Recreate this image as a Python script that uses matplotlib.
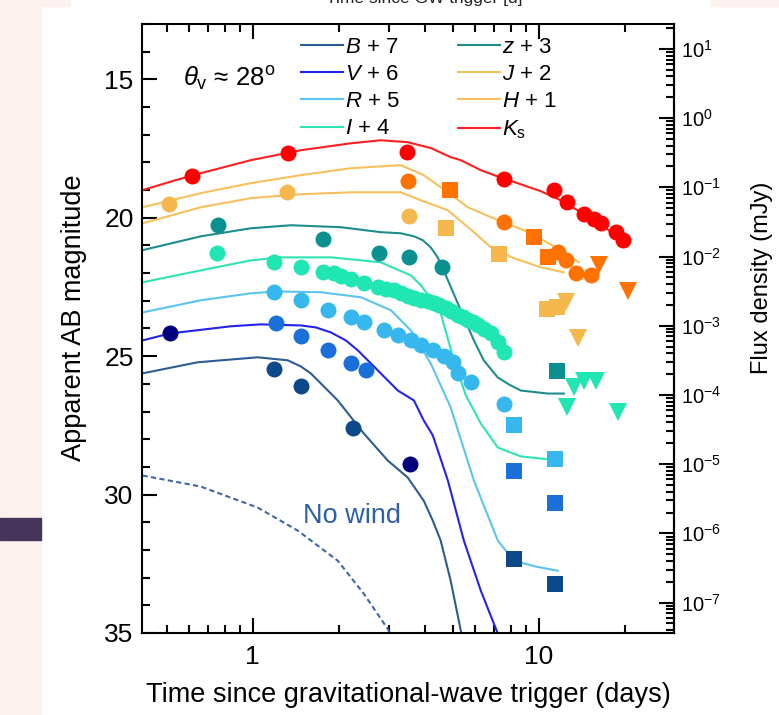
import numpy as np
import matplotlib.pyplot as plt
from matplotlib.patches import Rectangle
from matplotlib.ticker import MultipleLocator, LogLocator, NullFormatter, FuncFormatter, FixedLocator

plt.rcParams['font.family'] = ['Liberation Sans', 'DejaVu Sans']
plt.rcParams['mathtext.fontset'] = 'custom'
plt.rcParams['mathtext.rm'] = 'Liberation Sans'
plt.rcParams['mathtext.it'] = 'Liberation Sans:italic'
plt.rcParams['mathtext.bf'] = 'Liberation Sans:bold'

# ---- model light curves (days, AB mag with offsets) ----
t_ks_mod = [0.412, 0.538, 0.658, 0.984, 1.472, 2.20, 2.80, 3.48, 4.19, 4.92, 5.34, 6.27, 7.37, 8.65, 10.16, 11.94, 14.03, 16.48, 20.15]
m_ks_mod = [19.00, 18.64, 18.39, 17.92, 17.56, 17.31, 17.20, 17.27, 17.48, 17.81, 17.92, 18.28, 18.55, 18.79, 19.04, 19.37, 19.80, 20.23, 20.92]

t_h_mod = [0.412, 0.658, 0.984, 1.472, 2.20, 3.29, 3.96, 4.81, 5.65, 6.80, 7.55, 9.38, 11.94, 13.8]
m_h_mod = [19.62, 19.11, 18.75, 18.46, 18.21, 18.10, 18.46, 19.08, 19.62, 19.98, 20.16, 20.56, 21.17, 21.61]

t_j_mod = [0.412, 0.658, 0.984, 1.472, 2.20, 3.29, 3.87, 4.81, 5.93, 6.80, 8.18, 10.16, 12.23]
m_j_mod = [20.20, 19.62, 19.29, 19.15, 19.08, 19.08, 19.37, 19.73, 20.52, 21.07, 21.46, 21.79, 21.97]

t_z_mod = [0.412, 0.658, 0.984, 1.358, 2.03, 2.80, 3.29, 3.66, 3.93, 4.19, 4.43, 4.65, 5.21, 5.93, 6.42, 7.19, 7.86, 8.65, 10.75, 12.23]
m_z_mod = [21.17, 20.67, 20.38, 20.27, 20.34, 20.52, 20.56, 20.67, 20.81, 21.07, 21.43, 21.90, 23.09, 24.43, 25.15, 25.77, 26.02, 26.24, 26.35, 26.35]

t_i_mod = [0.412, 0.658, 0.984, 1.253, 1.874, 2.80, 3.57, 3.87, 4.19, 4.54, 5.05, 5.56, 6.27, 7.19, 8.65, 10.84]
m_i_mod = [22.33, 21.90, 21.54, 21.43, 21.43, 21.61, 22.08, 22.44, 22.91, 23.45, 25.15, 26.42, 27.43, 28.30, 28.62, 28.73]

t_r_mod = [0.412, 0.658, 0.984, 1.203, 1.729, 2.386, 3.04, 3.57, 4.19, 4.92, 5.93, 7.19, 8.18, 9.76, 11.65]
m_r_mod = [23.42, 22.98, 22.73, 22.66, 22.69, 22.87, 23.34, 24.07, 25.26, 26.85, 29.49, 31.66, 32.39, 32.60, 32.75]

t_v_mod = [0.412, 0.513, 0.838, 1.067, 1.472, 1.661, 1.874, 2.115, 2.33, 2.735, 3.214, 3.66, 3.96, 4.26, 4.81, 5.47, 6.27, 7.19, 7.67]
m_v_mod = [24.43, 24.18, 23.92, 23.85, 23.89, 23.96, 24.14, 24.43, 24.79, 25.51, 26.24, 26.60, 27.32, 27.86, 29.49, 31.66, 33.47, 35.02, 36.0]

t_b_mod = [0.412, 0.642, 1.041, 1.326, 1.472, 1.595, 1.771, 1.983, 2.444, 2.965, 3.48, 3.96, 4.26, 4.54, 4.92, 5.34, 5.56]
m_b_mod = [25.62, 25.22, 25.04, 25.15, 25.37, 25.62, 26.09, 26.60, 27.79, 28.77, 29.38, 30.22, 30.94, 31.66, 33.11, 34.92, 36.0]

t_nowind = [0.412, 0.658, 1.041, 1.436, 1.983, 2.444, 3.04, 3.21]
m_nowind = [29.31, 29.71, 30.47, 31.30, 32.39, 33.58, 35.02, 35.46]

# ---- photometry ----
t_ks = [0.612, 1.326, 3.455, 7.55, 11.28, 12.6, 14.4, 15.57, 16.48, 18.58, 19.7]
m_ks = [18.50, 17.67, 17.63, 18.61, 19.00, 19.44, 19.87, 20.05, 20.20, 20.52, 20.81]

t_h = [3.48, 7.55, 11.65, 12.43, 13.5, 15.2]
m_h = [18.68, 20.16, 21.25, 21.54, 22.00, 22.08]
t_h_sq = [4.885, 9.6, 10.75]
m_h_sq = [19.00, 20.70, 21.43]
t_h_lim = [16.2, 20.5]
m_h_lim = [21.72, 22.66]

t_j = [0.508, 1.315, 3.52]
m_j = [19.51, 19.08, 19.94]
t_j_sq = [4.73, 7.25, 10.67, 11.56]
m_j_sq = [20.38, 21.32, 23.31, 23.24]
t_j_lim = [12.43, 13.7]
m_j_lim = [23.05, 24.36]

t_z = [0.755, 1.76, 2.76, 3.51, 4.58]
m_z = [20.27, 20.78, 21.28, 21.43, 21.79]
t_z_sq = [11.56]
m_z_sq = [25.55]

t_i = [0.748, 1.19, 1.47, 1.76, 1.92, 2.03, 2.20, 2.44, 2.74, 2.92, 3.11, 3.29, 3.48, 3.66, 3.87,
       4.09, 4.29, 4.47, 4.73, 4.92, 5.21, 5.42, 5.65, 5.88, 6.12, 6.42, 6.80, 7.19, 7.55]
m_i = [21.28, 21.61, 21.79, 21.97, 22.00, 22.11, 22.22, 22.37, 22.51, 22.58, 22.62, 22.73, 22.84, 22.91, 22.98,
       23.02, 23.09, 23.16, 23.27, 23.38, 23.52, 23.60, 23.70, 23.78, 23.89, 24.03, 24.18, 24.50, 24.86]
t_i_lim = [12.6, 13.25, 14.4, 15.8, 18.9]
m_i_lim = [26.85, 26.13, 25.88, 25.88, 27.00]

t_r = [1.19, 1.47, 1.84, 2.20, 2.44, 2.87, 3.21, 3.57, 3.87, 4.26, 4.65, 5.0, 5.21, 5.78, 7.55]
m_r = [22.69, 22.98, 23.34, 23.60, 23.78, 24.07, 24.25, 24.43, 24.61, 24.79, 25.01, 25.22, 25.59, 25.95, 26.71]
t_r_sq = [8.18, 11.37]
m_r_sq = [27.50, 28.70]

t_v = [1.203, 1.472, 1.84, 2.20, 2.48]
m_v = [23.81, 24.28, 24.79, 25.26, 25.51]
t_v_sq = [8.18, 11.37]
m_v_sq = [29.13, 30.32]

t_b = [1.19, 1.472, 2.237]
m_b = [25.48, 26.09, 27.61]
t_b_sq = [8.18, 11.37]
m_b_sq = [32.31, 33.22]

t_dark = [0.513, 3.54]
m_dark = [24.18, 28.88]

legend_labels = [r'$B$ + 7', r'$V$ + 6', r'$R$ + 5', r'$I$ + 4',
                 r'$z$ + 3', r'$J$ + 2', r'$H$ + 1', r'$K_{\rm s}$']

flux_decades = list(range(-7, 2))


def mag_to_flux(m):
    # AB magnitude -> flux density in mJy
    return 10 ** ((16.4 - np.asarray(m, dtype=float)) / 2.5)


def flux_to_mag(f):
    f = np.clip(np.asarray(f, dtype=float), 1e-30, None)
    return 16.4 - 2.5 * np.log10(f)


fig = plt.figure(figsize=(7.79, 7.15), dpi=100)
fig.patches.append(Rectangle((0, 0), 41 / 779, 1, transform=fig.transFigure,
                             color='#fdf2ef', zorder=-5))
fig.patches.append(Rectangle((0, 1 - 6 / 715), 70 / 779, 6 / 715, transform=fig.transFigure,
                             color='#fdf2ef', zorder=-5))
fig.patches.append(Rectangle((711 / 779, 1 - 6 / 715), 68 / 779, 6 / 715, transform=fig.transFigure,
                             color='#fdf2ef', zorder=-5))
fig.patches.append(Rectangle((0, (715 - 540) / 715), 41 / 779, 22 / 715, transform=fig.transFigure,
                             color='#45355a', zorder=-4))
fig.text(424 / 779, 1 - 3 / 715, 'Time since GW trigger [d]', ha='center', va='baseline',
         fontsize=12.5, color='#222222')

ax = fig.add_axes([142 / 779, (715 - 633) / 715, 532 / 779, 609 / 715])

lw = 1.5
c_b, c_v, c_r, c_i = '#2b5d92', '#2323ee', '#5cc3ef', '#2fe3b5'
c_z, c_jh, c_ks = '#1f8c8c', '#f7c05c', '#ff1f1f'

lines = []
lines += ax.plot(t_b_mod, m_b_mod, color=c_b, lw=lw)
lines += ax.plot(t_v_mod, m_v_mod, color=c_v, lw=lw)
lines += ax.plot(t_r_mod, m_r_mod, color=c_r, lw=lw)
lines += ax.plot(t_i_mod, m_i_mod, color=c_i, lw=lw)
lines += ax.plot(t_z_mod, m_z_mod, color=c_z, lw=lw)
lines += ax.plot(t_j_mod, m_j_mod, color=c_jh, lw=lw)
lines += ax.plot(t_h_mod, m_h_mod, color=c_jh, lw=lw)
lines += ax.plot(t_ks_mod, m_ks_mod, color=c_ks, lw=lw)
ax.plot(t_nowind, m_nowind, color='#3a6aa5', lw=lw, ls=(0, (2.5, 1.6)))

ms_o, ms_s, ms_v = 11.5, 12, 12.5


def points(t, m, color, marker='o', ms=ms_o):
    ax.plot(t, m, ls='none', marker=marker, ms=ms, color=color, mew=0, zorder=3)


points(t_ks, m_ks, '#ff0000')
points(t_h, m_h, '#ff7200')
points(t_h_sq, m_h_sq, '#ff7200', 's', ms_s)
points(t_h_lim, m_h_lim, '#ff7200', 'v', ms_v)
points(t_j, m_j, '#f6b84c')
points(t_j_sq, m_j_sq, '#f6b84c', 's', ms_s)
points(t_j_lim, m_j_lim, '#f6b84c', 'v', ms_v)
points(t_z, m_z, '#0b9090')
points(t_z_sq, m_z_sq, '#0b9090', 's', ms_s)
points(t_i, m_i, '#1fe6b2')
points(t_i_lim, m_i_lim, '#1fe6b2', 'v', ms_v)
points(t_r, m_r, '#36b7ee')
points(t_r_sq, m_r_sq, '#36b7ee', 's', ms_s)
points(t_v, m_v, '#1a6fd8')
points(t_v_sq, m_v_sq, '#1a6fd8', 's', ms_s)
points(t_b, m_b, '#0d4888')
points(t_b_sq, m_b_sq, '#0d4888', 's', ms_s)
points(t_dark, m_dark, '#00007e')

ax.set_xscale('log')
ax.set_xlim(0.41, 29.7)
ax.set_ylim(35, 13)
ax.set_xticks([1, 10])
ax.set_xticklabels(['1', '10'])
ax.xaxis.set_minor_locator(LogLocator(base=10, subs=np.arange(2, 10), numticks=20))
ax.xaxis.set_minor_formatter(NullFormatter())
ax.yaxis.set_major_locator(MultipleLocator(5))
ax.yaxis.set_minor_locator(MultipleLocator(1))
ax.tick_params(which='both', direction='in', top=True, right=False, width=1.5, labelsize=19)
ax.tick_params(which='major', length=11)
ax.tick_params(which='minor', length=5.5)
ax.tick_params(axis='y', pad=6)
ax.tick_params(axis='x', pad=9)
for sp in ax.spines.values():
    sp.set_linewidth(1.5)

ax.set_xlabel('Time since gravitational-wave trigger (days)', fontsize=19.5, labelpad=9)
ax.set_ylabel('Apparent AB magnitude', fontsize=19.5)
ax.yaxis.set_label_coords(-0.104, 0.517)

# flux density axis on the right, tied to the magnitude scale
f_lo, f_hi = sorted(mag_to_flux(ax.get_ylim()))
major_f = [10.0 ** k for k in flux_decades]
minor_f = [s * 10.0 ** k for k in range(-8, 2) for s in range(2, 10)]
minor_f = [f for f in minor_f if f_lo < f < f_hi]

sec = ax.secondary_yaxis('right', functions=(mag_to_flux, flux_to_mag))
sec.yaxis.set_major_locator(FixedLocator(major_f))
sec.yaxis.set_minor_locator(FixedLocator(minor_f))
sec.yaxis.set_major_formatter(FuncFormatter(
    lambda v, pos: r'$\mathregular{10^{%d}}$' % round(np.log10(v))))
sec.yaxis.set_minor_formatter(NullFormatter())
sec.tick_params(which='both', direction='in', width=1.5, labelsize=14.5, pad=5)
sec.tick_params(which='major', length=11)
sec.tick_params(which='minor', length=5.5)
sec.spines['right'].set_linewidth(1.5)
sec.set_ylabel('Flux density (mJy)', fontsize=17)
sec.yaxis.set_label_coords(1.144, 0.583, transform=ax.transAxes)

ax.legend(lines, legend_labels, ncol=2, frameon=False, fontsize=16,
          loc='upper left', bbox_to_anchor=(0.286, 0.99), borderaxespad=0, borderpad=0.3,
          handlelength=1.9, handletextpad=0.1, columnspacing=2.6, labelspacing=0.28)

ax.text(0.077, 0.91, r'$\theta_{\rm v}$ ≈ 28$^{\rm o}$', transform=ax.transAxes,
        fontsize=18.5, va='center', ha='left')
ax.text(0.394, 0.192, 'No wind', transform=ax.transAxes, fontsize=19.5,
        color='#2f5fa8', ha='center', va='center')

fig.savefig('out.png', dpi=100)
